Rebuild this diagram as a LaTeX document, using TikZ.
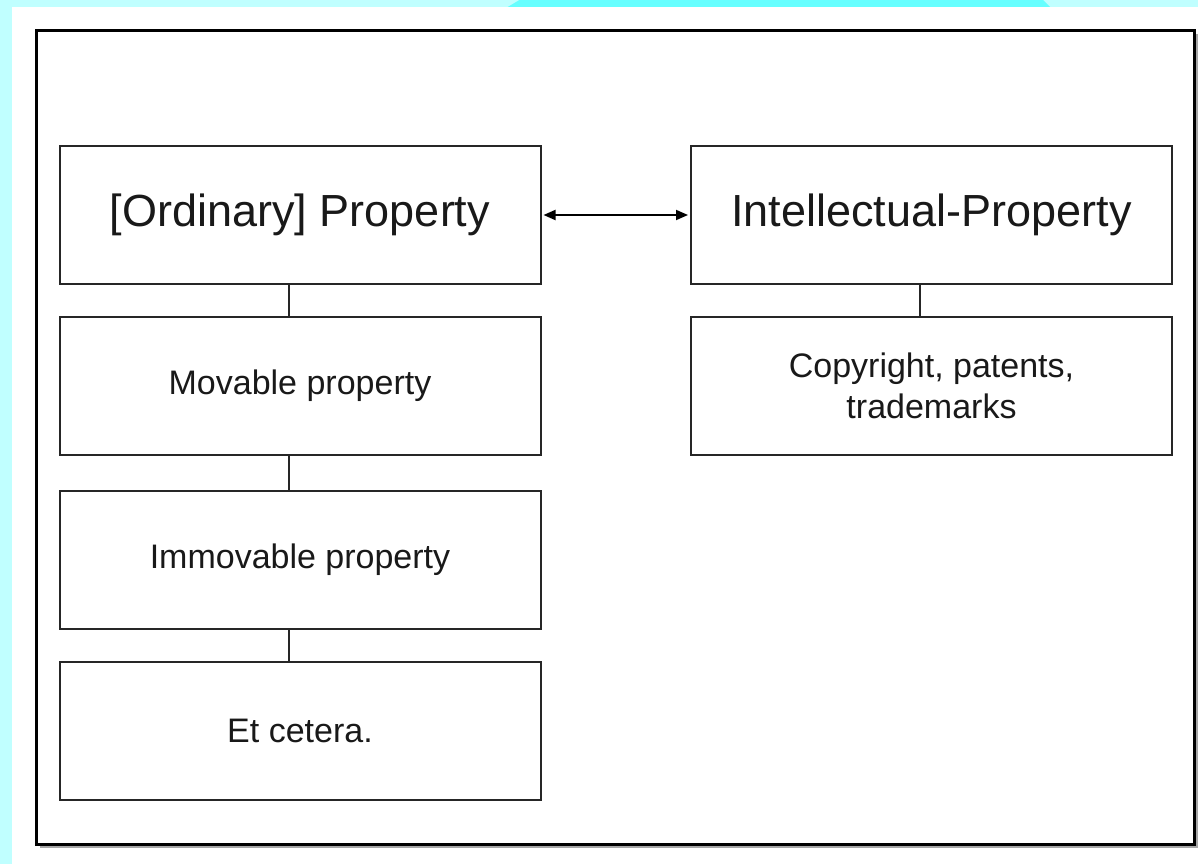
\documentclass[tikz,border=0pt]{standalone}
\usepackage{fontspec}
\setmainfont{Liberation Sans}
\usetikzlibrary{arrows.meta}
\definecolor{bgcyan}{HTML}{C0FFFF}
\definecolor{brightcyan}{HTML}{66FFFF}
\tikzset{
  bigbox/.style={draw=black!85, line width=2pt, fill=white, minimum width=481pt, minimum height=138pt, inner sep=0pt, align=center, text=black!90, font=\fontsize{45}{52}\selectfont},
  smallbox/.style={bigbox, font=\fontsize{34}{40.5}\selectfont},
  link/.style={draw=black!85, line width=1.8pt},
  biarrow/.style={draw=black, line width=1.8pt, {Triangle[length=12pt,width=10pt]}-{Triangle[length=12pt,width=10pt]}}
}
\begin{document}
\begin{tikzpicture}[x=1pt,y=-1pt]
\useasboundingbox (0,0) rectangle (1198,864);
% backgrounds
\fill[bgcyan] (0,0) rectangle (1198,864);
\fill[brightcyan] (521,-1) -- (1042,-1) -- (1051,8) -- (506,8) -- cycle;
\fill[white] (12,7) rectangle (1198,864);
% outer frame with shadow
\draw[black!35, line width=2pt] (40,847) -- (1197,847) -- (1197,34);
\draw[black, line width=3pt] (36,31) rectangle (1194,844);
% nodes
\node[bigbox] (ord) at (300,215) {[Ordinary] Property};
\node[smallbox] (mov) at (300,386) {Movable property};
\node[smallbox] (imm) at (300,559.5) {Immovable property};
\node[smallbox] (etc) at (300,730.5) {Et cetera.};
\node[bigbox] (ip) at (931.5,215) {Intellectual-Property};
\node[smallbox] (cpr) at (931.5,386) {Copyright, patents,\\trademarks};
% connectors
\draw[link] ([xshift=-11pt]ord.south) -- ([xshift=-11pt]mov.north);
\draw[link] ([xshift=-11pt]mov.south) -- ([xshift=-11pt]imm.north);
\draw[link] ([xshift=-11pt]imm.south) -- ([xshift=-11pt]etc.north);
\draw[link] ([xshift=-11.5pt]ip.south) -- ([xshift=-11.5pt]cpr.north);
\draw[biarrow] ([xshift=2pt]ord.east) -- ([xshift=-2pt]ip.west);
\end{tikzpicture}
\end{document}
